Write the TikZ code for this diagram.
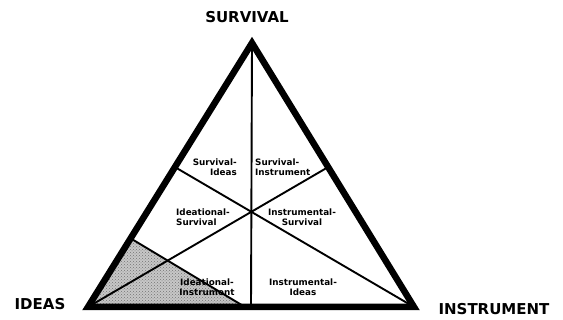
\documentclass[tikz,border=0pt]{standalone}
\usepackage{fontspec}
\setmainfont{DejaVu Sans}
\usetikzlibrary{calc,patterns}
\begin{document}
\begin{tikzpicture}[x=1pt,y=-1pt,
  outer/.style={line width=6.5pt,line join=miter},
  inner/.style={line width=1.9pt},
  title/.style={font=\bfseries\fontsize{15}{15}\selectfont,inner sep=0pt},
  lab/.style={font=\bfseries\fontsize{8.8}{10.5}\selectfont,inner sep=0pt}]
\useasboundingbox (0,0) rectangle (563,320);
% vertices
\coordinate (S) at (252,43);
\coordinate (I) at (88,307);
\coordinate (N) at (414,307);
\coordinate (B) at (251,307);
\coordinate (L) at ($(I)!0.53!(S)$);
\coordinate (R) at ($(N)!0.53!(S)$);
\coordinate (H1) at ($(I)!0.26!(S)$);
\coordinate (H2) at (245,307);
% shaded region
\fill[black!22] (I) -- (H1) -- (H2) -- cycle;
\fill[pattern=crosshatch dots,pattern color=black!55] (I) -- (H1) -- (H2) -- cycle;
\draw[inner] (H1) -- (H2);
% inner lines
\draw[inner] (S) -- (B);
\draw[inner] (I) -- (R);
\draw[inner] (N) -- (L);
% outer triangle
\draw[outer] (S) -- (I) -- (N) -- cycle;
% titles
\node[title] (ts) at (247,17) {SURVIVAL};
\node[title] (ti) at (40,304) {IDEAS};
\node[title] (tn) at (494,309) {INSTRUMENT};
% region labels
\node[lab,anchor=east,align=right] (l1) at (237,167) {Survival-\\Ideas};
\node[lab,anchor=west,align=left] (l2) at (255,167) {Survival-\\Instrument};
\node[lab,anchor=west,align=left] (l3) at (176,217) {Ideational-\\Survival};
\node[lab,anchor=center,align=center] (l4) at (302,217) {Instrumental-\\Survival};
\node[lab,anchor=center,align=center] (l5) at (207,287) {Ideational-\\Instrument};
\node[lab,anchor=center,align=center] (l6) at (303,287) {Instrumental-\\Ideas};
\end{tikzpicture}
\end{document}
